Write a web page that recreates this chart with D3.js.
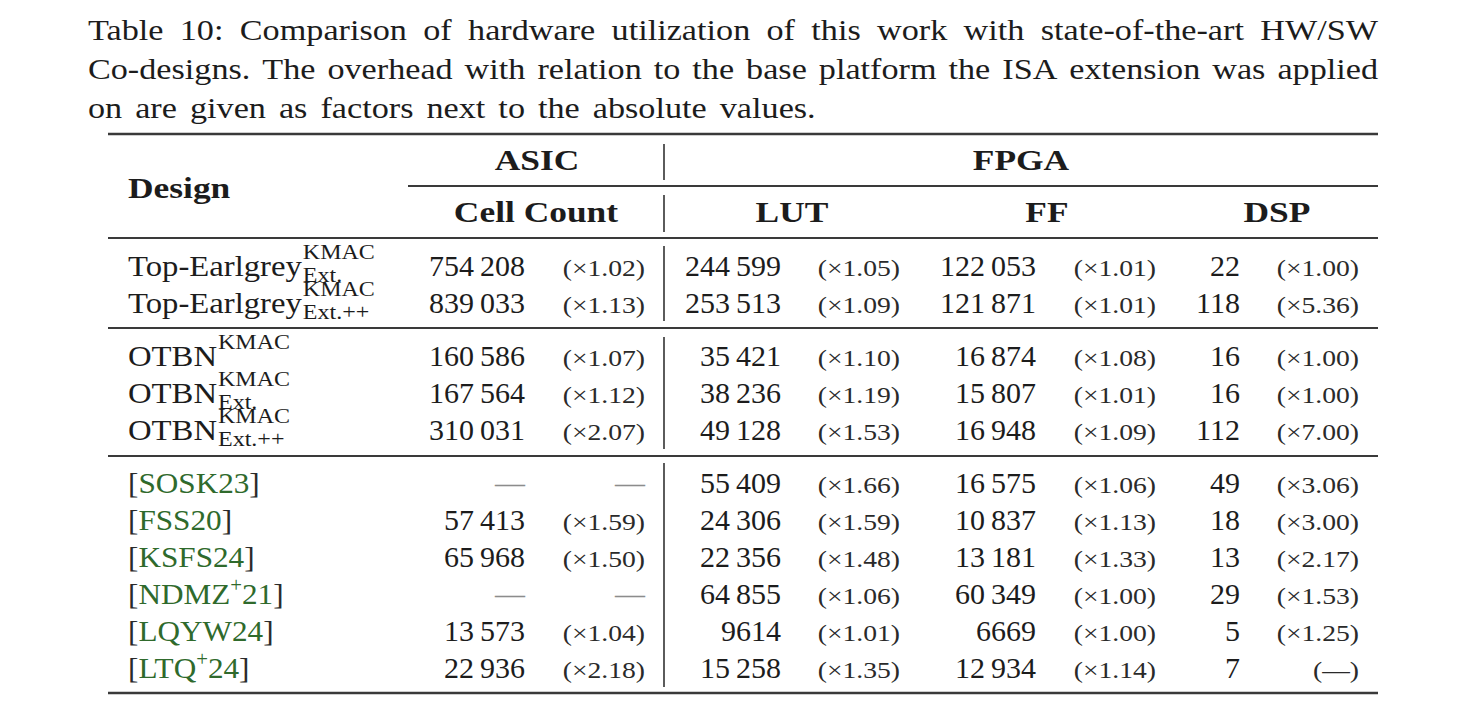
<!DOCTYPE html>
<html>
<head>
<meta charset="utf-8">
<script src="https://cdn.jsdelivr.net/npm/d3@7"></script>
<style>
  body { margin: 0; background: #fff; }
  svg { display: block; }
  text { font-family: "Liberation Serif", "Times New Roman", serif; fill: #1c1c1c; }
</style>
</head>
<body>
<svg id="table"></svg>
<script>
const width = 1484,
    height = 726;

// caption and headers
const captionLines = [
    "Table 10: Comparison of hardware utilization of this work with state-of-the-art HW/SW",
    "Co-designs. The overhead with relation to the base platform the ISA extension was applied",
    "on are given as factors next to the absolute values."
];
const groupHeaders = ["ASIC", "FPGA"];
const metricHeaders = ["Cell Count", "LUT", "FF", "DSP"];

// rows
const designBase = ["Top-Earlgrey", "Top-Earlgrey", "OTBN", "OTBN", "OTBN", "SOSK23", "FSS20", "KSFS24", "NDMZ", "LQYW24", "LTQ"];
const designSup = ["KMAC", "KMAC", "KMAC", "KMAC", "KMAC", "", "", "", "+", "", "+"];
const designSub = ["Ext.", "Ext.++", "", "Ext.", "Ext.++", "", "", "", "", "", ""];
const designTail = ["", "", "", "", "", "", "", "", "21", "", "24"];
const isCitation = [false, false, false, false, false, true, true, true, true, true, true];
const rowGroup = [0, 0, 1, 1, 1, 2, 2, 2, 2, 2, 2];

const cellCount = [754208, 839033, 160586, 167564, 310031, null, 57413, 65968, null, 13573, 22936];
const cellFactor = [1.02, 1.13, 1.07, 1.12, 2.07, null, 1.59, 1.50, null, 1.04, 2.18];
const lutCount = [244599, 253513, 35421, 38236, 49128, 55409, 24306, 22356, 64855, 9614, 15258];
const lutFactor = [1.05, 1.09, 1.10, 1.19, 1.53, 1.66, 1.59, 1.48, 1.06, 1.01, 1.35];
const ffCount = [122053, 121871, 16874, 15807, 16948, 16575, 10837, 13181, 60349, 6669, 12934];
const ffFactor = [1.01, 1.01, 1.08, 1.01, 1.09, 1.06, 1.13, 1.33, 1.00, 1.00, 1.14];
const dspCount = [22, 118, 16, 16, 112, 49, 18, 13, 29, 5, 7];
const dspFactor = [1.00, 5.36, 1.00, 1.00, 7.00, 3.06, 3.00, 2.17, 1.53, 1.25, null];

const columns = [
    { values: cellCount, factors: cellFactor, numRight: 525, facRight: 645 },
    { values: lutCount, factors: lutFactor, numRight: 781, facRight: 900 },
    { values: ffCount, factors: ffFactor, numRight: 1036, facRight: 1156 },
    { values: dspCount, factors: dspFactor, numRight: 1240, facRight: 1359 },
];

const fontSize = 30,
    smallSize = 23,
    scriptSize = 20;
const tableLeft = 108,
    tableRight = 1378,
    textLeft = 128,
    sepX = 664,
    asicLeft = 408;
const citeColor = "#2f6a2c";

// Times is narrower than Computer Modern, so widen glyphs a little
function stretch(sel, k) {
    sel.each(function () {
        const w = this.getComputedTextLength();
        d3.select(this)
            .attr("textLength", w * k)
            .attr("lengthAdjust", "spacingAndGlyphs");
    });
    return sel;
}

const svg = d3.select("svg#table")
    .attr("width", width)
    .attr("height", height);

// caption, justified line by line
const captionY = d3.scaleLinear().domain([0, 1]).range([40, 79]);
const capLeft = 88,
    capRight = 1378,
    baseGap = 12;
const cap = svg.append("g").style("font-size", fontSize + "px");
let lastScale = 1.1;
captionLines.forEach((line, li) => {
    const words = line.split(" ");
    const texts = cap.selectAll(null)
        .data(words)
        .enter()
        .append("text")
        .attr("y", captionY(li))
        .text(d => d);
    const widths = [];
    texts.each(function () { widths.push(this.getComputedTextLength()); });
    const total = d3.sum(widths);
    const last = li === captionLines.length - 1;
    let scale, gap;
    if (last) {
        scale = Math.min(1.14, lastScale * 1.025);
        gap = baseGap + 1;
    } else {
        scale = Math.min(1.14, (capRight - capLeft - (words.length - 1) * baseGap) / total);
        gap = (capRight - capLeft - total * scale) / (words.length - 1);
        lastScale = scale;
    }
    let x = capLeft;
    texts.attr("x", (d, i) => {
        const px = x;
        x += widths[i] * scale + gap;
        return px;
    })
        .attr("textLength", (d, i) => widths[i] * scale)
        .attr("lengthAdjust", "spacingAndGlyphs");
});

// rules
const ruleY = { top: 134, cmid: 186, head: 238, g1: 328, g2: 456, bottom: 693 };
const rules = [
    { y: ruleY.top, x1: tableLeft, w: 2.6 },
    { y: ruleY.cmid, x1: asicLeft, w: 1.8 },
    { y: ruleY.head, x1: tableLeft, w: 2.0 },
    { y: ruleY.g1, x1: tableLeft, w: 2.0 },
    { y: ruleY.g2, x1: tableLeft, w: 2.0 },
    { y: ruleY.bottom, x1: tableLeft, w: 2.6 },
];
svg.append("g")
    .selectAll("line")
    .data(rules)
    .enter()
    .append("line")
    .attr("x1", d => d.x1)
    .attr("x2", tableRight)
    .attr("y1", d => d.y)
    .attr("y2", d => d.y)
    .attr("stroke", "#3a3a3a")
    .attr("stroke-width", d => d.w);

// vertical separator between ASIC and FPGA, broken at each rule
const vSegments = [
    [ruleY.top + 10, ruleY.cmid - 6],
    [ruleY.cmid + 9, ruleY.head - 6],
    [ruleY.head + 8, ruleY.g1 - 7],
    [ruleY.g1 + 9, ruleY.g2 - 7],
    [ruleY.g2 + 7, ruleY.bottom - 6],
];
svg.append("g")
    .selectAll("line")
    .data(vSegments)
    .enter()
    .append("line")
    .attr("x1", sepX)
    .attr("x2", sepX)
    .attr("y1", d => d[0])
    .attr("y2", d => d[1])
    .attr("stroke", "#333")
    .attr("stroke-width", 1.6);

// header
const headK = 1.18;
const head = svg.append("g").style("font-weight", "bold").style("font-size", "30px");
stretch(head.append("text")
    .attr("x", textLeft)
    .attr("y", 198)
    .text("Design"), headK);
const groupCenters = [(asicLeft + sepX) / 2 + 1, (sepX + tableRight) / 2];
stretch(head.selectAll("text.group")
    .data(groupHeaders)
    .enter()
    .append("text")
    .classed("group", true)
    .attr("text-anchor", "middle")
    .attr("x", (d, i) => groupCenters[i])
    .attr("y", 170)
    .text(d => d), headK);
const metricCenters = [536, 792, 1047, 1277];
stretch(head.selectAll("text.metric")
    .data(metricHeaders)
    .enter()
    .append("text")
    .classed("metric", true)
    .attr("text-anchor", "middle")
    .attr("x", (d, i) => metricCenters[i])
    .attr("y", 222)
    .text(d => d), headK);

// row baselines: 37px per row plus an extra gap per group
const rowStep = d3.scaleLinear().domain([0, 1]).range([276, 313]);
const groupGap = 16 / 37;
const rowY = i => rowStep(i + rowGroup[i] * groupGap);

const fmtNum = v => v >= 10000 ? d3.format(",")(v).replace(/,/g, "\u2009") : String(v);
const fmtFac = v => "(\u00d7" + d3.format(".2f")(v) + ")";

// design names
const body = svg.append("g");
designBase.forEach((name, i) => {
    const y = rowY(i);
    const t = body.append("text")
        .attr("x", textLeft)
        .attr("y", y)
        .style("font-size", fontSize + "px");
    if (isCitation[i]) {
        t.append("tspan").text("[").style("fill", "#2a2a2a");
        t.append("tspan").text(name).style("fill", citeColor);
        if (designSup[i]) {
            t.append("tspan").text(designSup[i]).style("fill", citeColor)
                .style("font-size", scriptSize + "px").attr("dy", -12);
            t.append("tspan").text(designTail[i]).style("fill", citeColor).attr("dy", 12);
        }
        t.append("tspan").text("]").style("fill", "#2a2a2a");
        stretch(t, 1.04);
    } else {
        t.text(name);
        const w = t.node().getComputedTextLength() * 1.09;
        stretch(t, 1.09);
        stretch(body.append("text")
            .attr("x", textLeft + w + 1)
            .attr("y", y - 17)
            .style("font-size", scriptSize + "px")
            .text(designSup[i]), 1.2);
        if (designSub[i]) {
            stretch(body.append("text")
                .attr("x", textLeft + w + 1)
                .attr("y", y + 6)
                .style("font-size", scriptSize + "px")
                .text(designSub[i]), 1.2);
        }
    }
});

// values and factors
columns.forEach(col => {
    const g = body.append("g");
    g.selectAll("text.num")
        .data(col.values)
        .enter()
        .append("text")
        .classed("num", true)
        .attr("text-anchor", "end")
        .attr("x", col.numRight)
        .attr("y", (d, i) => rowY(i))
        .style("font-size", fontSize + "px")
        .style("fill", d => d == null ? "#8c8c8c" : null)
        .text(d => d == null ? "\u2014" : fmtNum(d));
    const fac = g.selectAll("text.fac")
        .data(col.factors)
        .enter()
        .append("text")
        .classed("fac", true)
        .attr("text-anchor", "end")
        .attr("x", col.facRight)
        .attr("y", (d, i) => rowY(i))
        .style("font-size", (d, i) => (d == null && col.values[i] == null ? fontSize : smallSize) + "px")
        .style("fill", (d, i) => d == null && col.values[i] == null ? "#8c8c8c" : "#2a2a2a")
        .text((d, i) => d != null ? fmtFac(d) : (col.values[i] == null ? "\u2014" : "(\u2014)"));
    stretch(fac.filter((d, i) => !(d == null && col.values[i] == null)), 1.2);
});
</script>
</body>
</html>
